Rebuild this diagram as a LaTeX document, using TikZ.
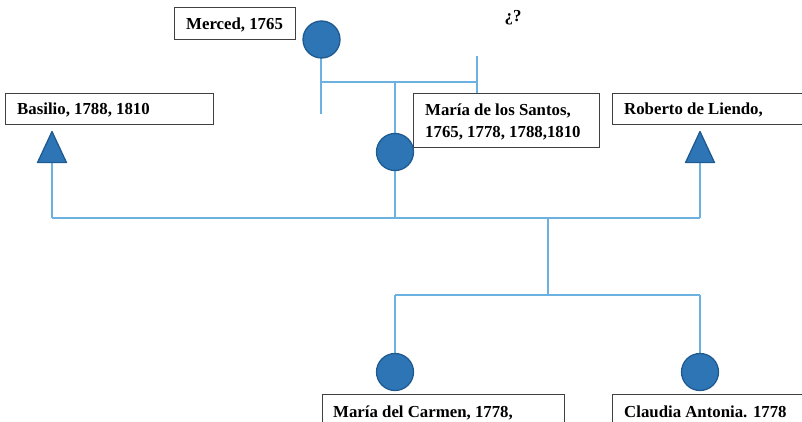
\documentclass[tikz,border=0pt]{standalone}
\usepackage{fontspec}
\setmainfont{Liberation Serif}
\usetikzlibrary{shapes.geometric}
\definecolor{linkblue}{HTML}{6BB2E3}
\definecolor{fillblue}{HTML}{2E75B6}
\definecolor{edgeblue}{HTML}{1F5A90}
\tikzset{
  femalenode/.style={circle, draw=edgeblue, line width=1.3pt, fill=fillblue, minimum size=37pt, inner sep=0pt},
  malenode/.style={isosceles triangle, isosceles triangle apex angle=50, shape border rotate=90, draw=edgeblue, line width=1.3pt, fill=fillblue, minimum height=31pt, minimum width=28pt, inner sep=0pt, line join=round},
  labelbox/.style={draw=black!75, line width=0.8pt, fill=white, anchor=north west, inner sep=0pt},
  labeltext/.style={font=\fontsize{16.8}{20}\selectfont\bfseries, anchor=base west, inner sep=0pt},
  link/.style={draw=linkblue, line width=1.1pt}
}
\begin{document}
\begin{tikzpicture}[x=1pt,y=-1pt]
\useasboundingbox (0,0) rectangle (802,422);
% boxes
\node[labelbox, minimum width=121pt, minimum height=32pt] (mercedbox) at (174,7) {};
\node[labeltext] (mercedtext) at (186,30) {Merced, 1765};
\node[labelbox, minimum width=208pt, minimum height=31pt] (basiliobox) at (5,93) {};
\node[labeltext] (basiliotext) at (17,114.5) {Basilio, 1788, 1810};
\node[labelbox, minimum width=186pt, minimum height=54pt] (santosbox) at (413,93) {};
\node[labeltext] (santostext1) at (425,115.5) {María de los Santos,};
\node[labeltext] (santostext2) at (425,138) {1765, 1778, 1788,1810};
\node[labelbox, minimum width=192pt, minimum height=31pt] (robertobox) at (612,93) {};
\node[labeltext] (robertotext) at (624,114.5) {Roberto de Liendo,};
\node[labelbox, minimum width=242pt, minimum height=40pt] (carmenbox) at (322,394) {};
\node[labeltext] (carmentext) at (333,417.5) {María del Carmen, 1778,};
\node[labelbox, minimum width=200pt, minimum height=40pt] (claudiabox) at (612,394) {};
\node[labeltext] (claudiatext) at (624,417.5) {Claudia Antonia. 1778};
\node[font=\fontsize{16.8}{20}\selectfont\bfseries, inner sep=0pt] (unknown) at (513,18) {¿?};
% coordinates
\coordinate (mercedend) at (321,114);
\coordinate (parentsleft) at (321,82);
\coordinate (parentsmid) at (395,82);
\coordinate (parentsright) at (477,82);
\coordinate (unknowntop) at (477,56);
\coordinate (unknownbottom) at (477,93);
\coordinate (sibL) at (52,218);
\coordinate (sibM) at (395,218);
\coordinate (sibC) at (548,218);
\coordinate (sibR) at (700,218);
\coordinate (kidC) at (548,295);
\coordinate (kidL) at (395,295);
\coordinate (kidR) at (700,295);
% lines (drawn before symbols)
\draw[link] (321,40) -- (mercedend);
\draw[link] (parentsleft) -- (parentsright);
\draw[link] (unknowntop) -- (unknownbottom);
\draw[link] (parentsmid) -- (sibM);
\draw[link] (sibL) -- (sibR);
\draw[link] (52,150) -- (sibL);
\draw[link] (700,150) -- (sibR);
\draw[link] (sibC) -- (kidC);
\draw[link] (kidL) -- (kidR);
\draw[link] (kidL) -- (395,372);
\draw[link] (kidR) -- (700,372);
% symbols
\node[femalenode] (merced) at (321.5,39.5) {};
\node[femalenode] (santos) at (395,152) {};
\node[malenode, anchor=apex] (basilio) at (52,130) {};
\node[malenode, anchor=apex] (roberto) at (700,130) {};
\node[femalenode] (carmen) at (395,372) {};
\node[femalenode] (claudia) at (700,372) {};
\end{tikzpicture}
\end{document}
